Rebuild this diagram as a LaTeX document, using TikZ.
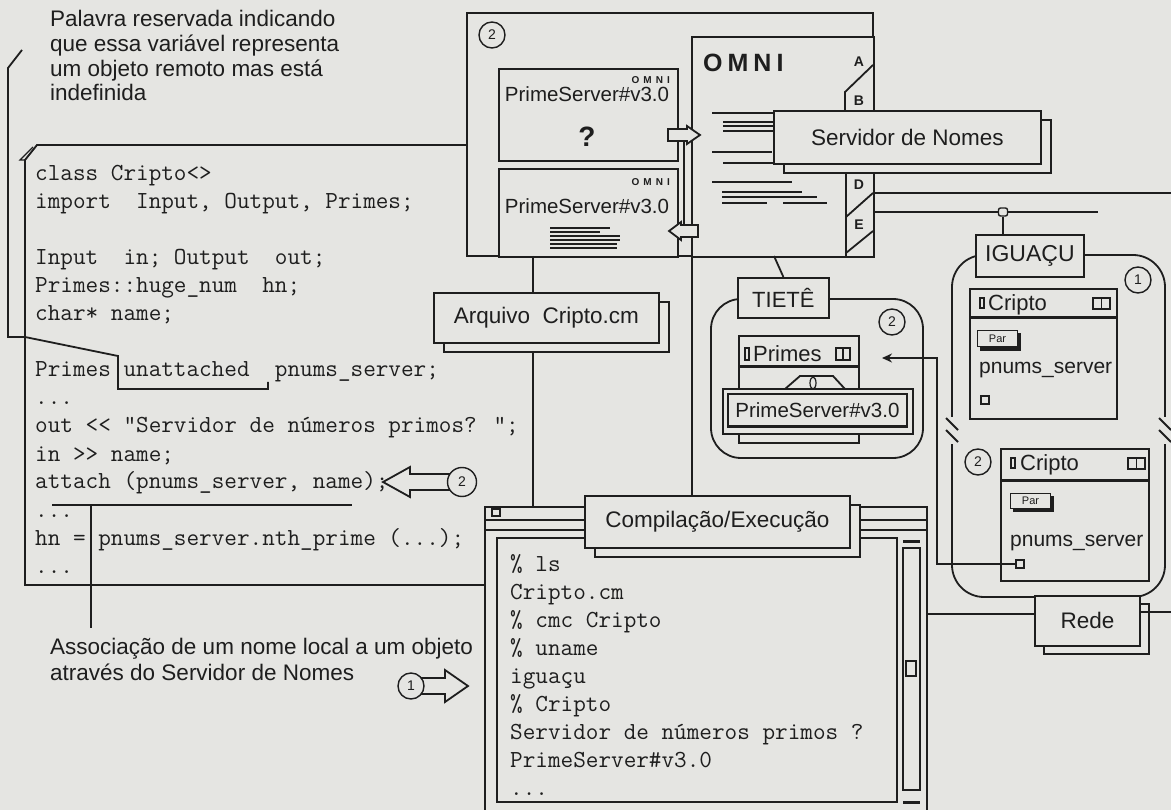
\documentclass[tikz,border=0pt]{standalone}
\usepackage{fontspec}
\setmainfont{Liberation Sans}
\usetikzlibrary{shadows,arrows.meta}
\definecolor{bg}{RGB}{229,229,226}
\definecolor{ink}{RGB}{30,30,30}
\newcommand\fsz[1]{\fontsize{#1}{#1}\selectfont}
\newcommand\codef{\ttfamily\addfontfeatures{FakeBold=0.7}\fontsize{24.5}{28}\selectfont}
\tikzset{
 ln/.style={draw=ink,line width=1.8pt},
 thinln/.style={draw=ink,line width=1.2pt},
 box/.style={draw=ink,line width=1.8pt,fill=bg,inner sep=0pt,anchor=north west},
 shd/.style={copy shadow={shadow xshift=10pt,shadow yshift=-9pt}},
 lbl/.style={text=ink,inner sep=0pt,font=\fsz{22.5}},
 code/.style={text=ink,inner sep=0pt,anchor=base west,font=\codef},
 numc/.style={draw=ink,line width=1.4pt,circle,minimum size=26pt,inner sep=0pt,font=\fsz{14},text=ink,fill=bg},
}
\begin{document}
\begin{tikzpicture}[x=1pt,y=-1pt]
\fill[bg] (0,0) rectangle (1171,810);
\useasboundingbox (0,0) rectangle (1171,810);

% ---------- top annotation ----------
\node[lbl,anchor=base west] (a1) at (50,27) {Palavra reservada indicando};
\node[lbl,anchor=base west] (a2) at (50,52) {que essa variável representa};
\node[lbl,anchor=base west] (a3) at (50,77) {um objeto remoto mas está};
\node[lbl,anchor=base west] (a4) at (50,101) {indefinida};
\coordinate (lead0) at (22,50);
\draw[ln] (lead0) -- (8,68) -- (8,337) -- (25,337) -- (118,356) -- (118,389) -- (268,389) -- (268,382);

% ---------- code box ----------
\draw[ln] (467,145) -- (37,145) -- (25,160) -- (25,585) -- (485,585);
\draw[thinln] (25,160) -- (20,160) -- (33,147);
\node[code] (c0) at (35,181) {class Cripto<>};
\node[code] (c1) at (35,209) {import~~Input, Output, Primes;};
\node[code] (c3) at (35,265) {Input~~in; Output~~out;};
\node[code] (c4) at (35,293) {Primes::huge\_num~~hn;};
\node[code] (c5) at (35,321) {char* name;};
\node[code] (c7) at (35,377) {Primes unattached~~pnums\_server;};
\node[code] (c8) at (35,405) {...};
\node[code] (c9) at (35,433) {out << "Servidor de números primos? ";};
\node[code] (c10) at (35,461) {in >> name;};
\node[code] (c11) at (35,489) {attach (pnums\_server, name);};
\node[code] (c12) at (35,517) {...};
\node[code] (c13) at (35,545) {hn = pnums\_server.nth\_prime (...);};
\node[code] (c14) at (35,573) {...};
\draw[ln] (52,505) -- (352,505);
\draw[ln] (91,505) -- (91,628);

% arrow (2) at attach
\draw[ln,fill=bg] (455,474) -- (410,474) -- (410,467) -- (383,482) -- (410,497) -- (410,490) -- (455,490) -- cycle;
\node[numc,minimum size=29pt] (n2b) at (462,482) {2};

% ---------- OMNI frame ----------
\draw[ln] (467,13) rectangle (873,256);
\node[numc] (n2a) at (492,35) {2};
\node[box,minimum width=179pt,minimum height=92pt] (ps1) at (498,68) {};
\node[text=ink,inner sep=0pt,anchor=base east,font=\bfseries\fsz{10}] (o1) at (670,84) {O\kern4pt M\kern4pt N\kern4pt I};
\node[lbl,font=\fsz{20.5}] (ps1t) at (587,94) {PrimeServer\#v3.0};
\node[lbl,font=\bfseries\fsz{28}] (q) at (587,137) {?};
\node[box,minimum width=179pt,minimum height=88pt] (ps2) at (498,168) {};
\node[text=ink,inner sep=0pt,anchor=base east,font=\bfseries\fsz{10}] (o2) at (670,186) {O\kern4pt M\kern4pt N\kern4pt I};
\node[lbl,font=\fsz{20.5}] (ps2t) at (587,206) {PrimeServer\#v3.0};
\foreach \yy/\xa/\xb in {228/550/610, 232/550/600, 236/550/620, 240/550/620, 244/550/617, 248/550/617}
  \draw[thinln] (\xa,\yy) -- (\xb,\yy);

\node[box,minimum width=182pt,minimum height=220pt] (omni) at (691,36) {};
\node[text=ink,inner sep=0pt,anchor=base west,font=\bfseries\fsz{25}] (omnit) at (703,72) {O\kern5pt M\kern5pt N\kern5pt I};
\foreach \yy/\xa/\xb in {113/712/773, 122/723/773, 126/723/773, 131/723/773, 152/712/772, 163/723/773, 182/712/792, 192/722/802, 197/722/817, 203/722/767, 203/783/827}
  \draw[thinln] (\xa,\yy) -- (\xb,\yy);
% tabs
\draw[ln] (873,65) -- (845,92) -- (845,112);
\draw[ln] (846,170) -- (846,256);
\draw[ln] (846,217) -- (873,193);
\draw[ln] (846,253) -- (873,231);
\foreach \tt/\yy in {A/62,B/101,D/185,E/225}
  \node[text=ink,inner sep=0pt,font=\bfseries\fsz{14}] at (859,\yy) {\tt};

% connector line between PrimeServer boxes and OMNI
\draw[ln] (684,141) -- (684,224);
\draw[ln,fill=bg] (668,129) -- (687,129) -- (687,126) -- (700,135) -- (687,144) -- (687,141) -- (668,141) -- cycle;
\draw[ln,fill=bg] (698,225) -- (681,225) -- (681,222) -- (669,231) -- (681,240) -- (681,237) -- (698,237) -- cycle;

% Servidor de Nomes
\node[box,shd,minimum width=267pt,minimum height=53pt,font=\fsz{22.5},text=ink] (serv) at (773,110) {Servidor de Nomes};

% network lines
\draw[ln] (873,193) -- (1171,193);
\coordinate (netend) at (1098,212);
\draw[ln] (873,212) -- (netend);
\node[draw=ink,line width=1.4pt,fill=bg,rounded corners=2pt,minimum width=9pt,minimum height=8pt,inner sep=0pt] (tap) at (1003,212) {};

% ---------- Arquivo ----------
\node[box,shd,minimum width=225pt,minimum height=50pt,font=\fsz{22.5},text=ink] (arq) at (433,292) {Arquivo\ \ Cripto.cm};
\draw[ln] (533,256) -- (533,292);
\draw[ln] (533,352) -- (533,507);
\draw[ln] (692,256) -- (692,495);

% ---------- TIETE ----------
\draw[ln,rounded corners=30pt] (711,299) rectangle (923,458);
\node[box,minimum width=91pt,minimum height=40pt,font=\fsz{22},text=ink] (tiete) at (737,277) {TIETÊ};
\draw[ln] (774,256) -- (tiete.north);
\node[numc] (n2c) at (892,322) {2};
\node[box,minimum width=120pt,minimum height=107pt] (primes) at (738,335) {};
\draw[ink,line width=3pt] (738,367) -- (858,367);
\draw[thinln] (745,348) rectangle (749,360);
\node[lbl,anchor=base west,font=\fsz{22}] (primest) at (753,362) {Primes};
\draw[thinln] (836,348) rectangle (850,360);
\draw[thinln] (843,348) -- (843,360);
\draw[ln,fill=bg] (785,389) -- (800,376) -- (833,376) -- (845,389);
\draw[thinln] (813,383) ellipse [x radius=3pt,y radius=6pt];
\node[box,minimum width=190pt,minimum height=45pt] (psout) at (722,388) {};
\node[box,minimum width=179pt,minimum height=33pt,font=\fsz{20.5},text=ink] (psin) at (727,393) {PrimeServer\#v3.0};
\draw[ink,line width=2.5pt] (727,426) -- (906,426);

% ---------- IGUACU ----------
\draw[ln,rounded corners=32pt] (952,255) rectangle (1165,597);
\fill[bg] (944,417) rectangle (960,444);
\fill[bg] (1157,417) rectangle (1171,444);
\draw[ln] (946,418) -- (958,430);
\draw[ln] (946,430) -- (958,442);
\draw[ln] (1159,418) -- (1171,430);
\draw[ln] (1159,430) -- (1171,442);
\node[box,minimum width=108pt,minimum height=42pt,font=\fsz{23},text=ink] (igu) at (975,234) {IGUAÇU};
\draw[ln] (tap) -- (igu.north -| tap);
\node[numc] (n1a) at (1138,280) {1};

% Cripto box 1
\node[box,minimum width=147pt,minimum height=130pt] (cr1) at (969,288) {};
\draw[ink,line width=3pt] (969,318) -- (1116,318);
\draw[thinln] (980,298) rectangle (984,308);
\node[lbl,anchor=base west,font=\fsz{22}] (cr1t) at (988,311) {Cripto};
\draw[thinln] (1093,298) rectangle (1110,309);
\draw[thinln] (1101.5,298) -- (1101.5,309);
\fill[ink] (980,333) rectangle (1021,351);
\node[box,minimum width=40pt,minimum height=16pt,font=\fsz{11},text=ink,line width=1pt] (par1) at (977,330) {Par};
\node[lbl,anchor=base west,font=\fsz{21}] (pn1) at (979,374) {pnums\_server};
\node[draw=ink,line width=1.4pt,minimum size=8pt,inner sep=0pt] (sq1) at (985,400) {};

% Cripto box 2
\node[box,minimum width=148pt,minimum height=132pt] (cr2) at (1000,448) {};
\node[numc] (n2d) at (978,462) {2};
\draw[ink,line width=3pt] (1000,480) -- (1148,480);
\draw[thinln] (1011,458) rectangle (1015,468);
\node[lbl,anchor=base west,font=\fsz{22}] (cr2t) at (1020,471) {Cripto};
\draw[thinln] (1128,458) rectangle (1145,469);
\draw[thinln] (1136.5,458) -- (1136.5,469);
\fill[ink] (1013,496) rectangle (1054,512);
\node[box,minimum width=40pt,minimum height=15pt,font=\fsz{11},text=ink,line width=1pt] (par2) at (1010,493) {Par};
\node[lbl,anchor=base west,font=\fsz{21}] (pn2) at (1010,546) {pnums\_server};
\node[draw=ink,line width=1.4pt,minimum size=8pt,inner sep=0pt] (sq2) at (1020,564) {};
\draw[ln,-{Stealth[length=10pt,width=9pt]}] (sq2.west) -| (937,358) -- (882,358);

% Rede
\node[box,copy shadow={shadow xshift=9pt,shadow yshift=-8pt},minimum width=105pt,minimum height=50pt,font=\fsz{22.5},text=ink] (rede) at (1034,595) {Rede};
\draw[ln] (rede.east |- 0,612) -- (1171,612);

% ---------- Compilacao window ----------
\draw[ln] (485,815) -- (485,507) -- (927,507) -- (927,815);
\draw[ln] (485,520) -- (927,520);
\draw[ln] (485,530) -- (927,530);
\draw[ln] (497,538) rectangle (897,802);
\draw[thinln] (492,509) rectangle (500,516);
\draw[ln] (903,548) rectangle (920,790);
\draw[thinln] (906,661) rectangle (916,676);
\draw[ink,line width=3pt] (903,541) -- (920,541);
\draw[ink,line width=3pt] (903,802) -- (920,802);
\node[box,shd,minimum width=265pt,minimum height=52pt,font=\fsz{22.5},text=ink] (comp) at (584,495) {Compilação/Execução};
\draw[ln] (927,614) -- (rede.west |- 0,614);
\node[code] (t0) at (510,571) {\% ls};
\node[code] (t1) at (510,599) {Cripto.cm};
\node[code] (t2) at (510,627) {\% cmc Cripto};
\node[code] (t3) at (510,655) {\% uname};
\node[code] (t4) at (510,683) {iguaçu};
\node[code] (t5) at (510,711) {\% Cripto};
\node[code] (t6) at (510,739) {Servidor de números primos ?};
\node[code] (t7) at (510,767) {PrimeServer\#v3.0};
\node[code] (t8) at (510,795) {...};

% ---------- bottom annotation ----------
\node[lbl,anchor=base west] (b1) at (50,654) {Associação de um nome local a um objeto};
\node[lbl,anchor=base west] (b2) at (50,680) {através do Servidor de Nomes};
\draw[ln,fill=bg] (418,678) -- (445,678) -- (445,670) -- (468,686) -- (445,702) -- (445,694) -- (418,694) -- cycle;
\node[numc] (n1b) at (411,686) {1};
\end{tikzpicture}
\end{document}
